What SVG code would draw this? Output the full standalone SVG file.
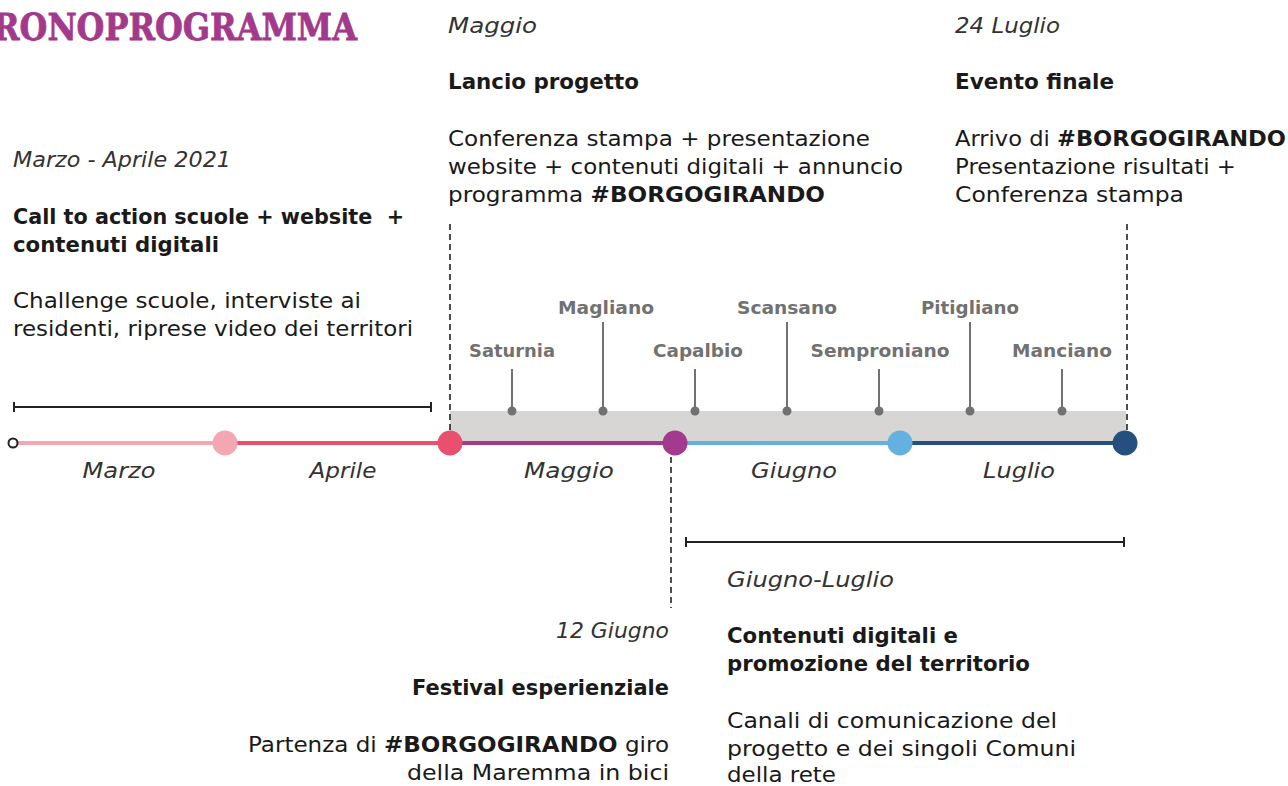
<svg xmlns="http://www.w3.org/2000/svg" width="1288" height="786" viewBox="0 0 1288 786">
<style>
text{font-family:"DejaVu Sans","Open Sans",sans-serif;font-size:20.5px;fill:#1a1a1a}
.it{font-style:italic;fill:#333}
.b{font-weight:700}
.town{font-weight:700;fill:#727171;font-size:17.5px;text-anchor:middle}
.mon{font-style:italic;fill:#333;text-anchor:middle}
.dash{stroke:#222;stroke-width:1.6;stroke-dasharray:6 4;fill:none}
.br{stroke:#222;stroke-width:2;fill:none}
.stem{stroke:#727171;stroke-width:2}
.title{font-family:"DejaVu Serif","Liberation Serif",serif;font-weight:700;font-size:38px;fill:#A3398B;stroke:#A3398B;stroke-width:0.8}
</style>
<rect width="1288" height="786" fill="#fff"/>
<g id="title"><text class="title" x="-7" y="40" textLength="364" lengthAdjust="spacingAndGlyphs">RONOPROGRAMMA</text></g>

<g id="band"><rect x="450" y="411" width="676" height="32" fill="#D8D6D5"/></g>

<g id="connectors">
<path class="dash" d="M450 224V441"/>
<path class="dash" d="M1127 224V441"/>
<path class="dash" d="M671 457V608"/>
<path class="br" d="M14 407H431M14 402V412M431 402V412"/>
<path class="br" d="M686 542H1124M686 537V547M1124 537V547"/>
<line x1="17" y1="443" x2="225" y2="443" stroke="#F2A7B2" stroke-width="4"/>
<line x1="225" y1="443" x2="450" y2="443" stroke="#E8506E" stroke-width="4"/>
<line x1="450" y1="443" x2="675" y2="443" stroke="#A33A8E" stroke-width="4"/>
<line x1="675" y1="443" x2="900" y2="443" stroke="#64B0DE" stroke-width="4"/>
<line x1="900" y1="443" x2="1125" y2="443" stroke="#254F7E" stroke-width="4"/>
</g>

<g id="timeline-points">
<circle cx="13" cy="443" r="4.5" fill="#fff" stroke="#222" stroke-width="2"/>
<circle cx="225" cy="443" r="12.5" fill="#F2A7B2"/>
<circle cx="450" cy="443" r="12.5" fill="#E8506E"/>
<circle cx="675" cy="443" r="12.5" fill="#A33A8E"/>
<circle cx="900" cy="443" r="12.5" fill="#64B0DE"/>
<circle cx="1125" cy="443" r="12.5" fill="#254F7E"/>
</g>

<g id="months">
<text class="mon" x="119" y="478" textLength="73" lengthAdjust="spacingAndGlyphs">Marzo</text>
<text class="mon" x="343" y="478" textLength="67" lengthAdjust="spacingAndGlyphs">Aprile</text>
<text class="mon" x="569" y="478" textLength="90" lengthAdjust="spacingAndGlyphs">Maggio</text>
<text class="mon" x="794" y="478" textLength="86" lengthAdjust="spacingAndGlyphs">Giugno</text>
<text class="mon" x="1019" y="478" textLength="72" lengthAdjust="spacingAndGlyphs">Luglio</text>
</g>

<g id="town-saturnia"><line class="stem" x1="512" y1="369" x2="512" y2="411"/><circle cx="512" cy="411" r="4.5" fill="#727171"/><text class="town" x="512" y="357" textLength="86" lengthAdjust="spacingAndGlyphs">Saturnia</text></g>
<g id="town-magliano"><line class="stem" x1="603" y1="322" x2="603" y2="411"/><circle cx="603" cy="411" r="4.5" fill="#727171"/><text class="town" x="606" y="314" textLength="96" lengthAdjust="spacingAndGlyphs">Magliano</text></g>
<g id="town-capalbio"><line class="stem" x1="695" y1="369" x2="695" y2="411"/><circle cx="695" cy="411" r="4.5" fill="#727171"/><text class="town" x="698" y="357" textLength="90" lengthAdjust="spacingAndGlyphs">Capalbio</text></g>
<g id="town-scansano"><line class="stem" x1="787" y1="322" x2="787" y2="411"/><circle cx="787" cy="411" r="4.5" fill="#727171"/><text class="town" x="787" y="314" textLength="100" lengthAdjust="spacingAndGlyphs">Scansano</text></g>
<g id="town-semproniano"><line class="stem" x1="879" y1="369" x2="879" y2="411"/><circle cx="879" cy="411" r="4.5" fill="#727171"/><text class="town" x="880" y="357" textLength="139" lengthAdjust="spacingAndGlyphs">Semproniano</text></g>
<g id="town-pitigliano"><line class="stem" x1="970" y1="322" x2="970" y2="411"/><circle cx="970" cy="411" r="4.5" fill="#727171"/><text class="town" x="970" y="314" textLength="98" lengthAdjust="spacingAndGlyphs">Pitigliano</text></g>
<g id="town-manciano"><line class="stem" x1="1062" y1="369" x2="1062" y2="411"/><circle cx="1062" cy="411" r="4.5" fill="#727171"/><text class="town" x="1062" y="357" textLength="100" lengthAdjust="spacingAndGlyphs">Manciano</text></g>

<g id="block-marzo-aprile">
<text class="it" x="13" y="167" textLength="218" lengthAdjust="spacingAndGlyphs">Marzo - Aprile 2021</text>
<text class="b" x="13" y="224" textLength="391" lengthAdjust="spacingAndGlyphs" xml:space="preserve">Call to action scuole + website  +</text>
<text class="b" x="13" y="252" textLength="206" lengthAdjust="spacingAndGlyphs">contenuti digitali</text>
<text x="13" y="308" textLength="348" lengthAdjust="spacingAndGlyphs">Challenge scuole, interviste ai</text>
<text x="13" y="336" textLength="400" lengthAdjust="spacingAndGlyphs">residenti, riprese video dei territori</text>
</g>

<g id="block-maggio">
<text class="it" x="448" y="33" textLength="89" lengthAdjust="spacingAndGlyphs">Maggio</text>
<text class="b" x="448" y="89" textLength="191" lengthAdjust="spacingAndGlyphs">Lancio progetto</text>
<text x="448" y="146" textLength="422" lengthAdjust="spacingAndGlyphs">Conferenza stampa + presentazione</text>
<text x="448" y="174" textLength="455" lengthAdjust="spacingAndGlyphs">website + contenuti digitali + annuncio</text>
<text x="448" y="202" textLength="377" lengthAdjust="spacingAndGlyphs">programma <tspan class="b">#BORGOGIRANDO</tspan></text>
</g>

<g id="block-luglio">
<text class="it" x="955" y="33" textLength="105" lengthAdjust="spacingAndGlyphs">24 Luglio</text>
<text class="b" x="955" y="89" textLength="159" lengthAdjust="spacingAndGlyphs">Evento finale</text>
<text x="955" y="146" textLength="331" lengthAdjust="spacingAndGlyphs">Arrivo di <tspan class="b">#BORGOGIRANDO</tspan></text>
<text x="955" y="174" textLength="281" lengthAdjust="spacingAndGlyphs">Presentazione risultati +</text>
<text x="955" y="202" textLength="229" lengthAdjust="spacingAndGlyphs">Conferenza stampa</text>
</g>

<g id="block-giugno">
<text class="it" x="556" y="638" textLength="113" lengthAdjust="spacingAndGlyphs">12 Giugno</text>
<text class="b" x="412" y="695" textLength="257" lengthAdjust="spacingAndGlyphs">Festival esperienziale</text>
<text x="248" y="752" textLength="421" lengthAdjust="spacingAndGlyphs">Partenza di <tspan class="b">#BORGOGIRANDO</tspan> giro</text>
<text x="407" y="780" textLength="262" lengthAdjust="spacingAndGlyphs">della Maremma in bici</text>
</g>

<g id="block-giugno-luglio">
<text class="it" x="727" y="587" textLength="167" lengthAdjust="spacingAndGlyphs">Giugno-Luglio</text>
<text class="b" x="727" y="643" textLength="231" lengthAdjust="spacingAndGlyphs">Contenuti digitali e</text>
<text class="b" x="727" y="671" textLength="303" lengthAdjust="spacingAndGlyphs">promozione del territorio</text>
<text x="727" y="728" textLength="330" lengthAdjust="spacingAndGlyphs">Canali di comunicazione del</text>
<text x="727" y="756" textLength="349" lengthAdjust="spacingAndGlyphs">progetto e dei singoli Comuni</text>
<text x="727" y="782" textLength="109" lengthAdjust="spacingAndGlyphs">della rete</text>
</g>
</svg>
